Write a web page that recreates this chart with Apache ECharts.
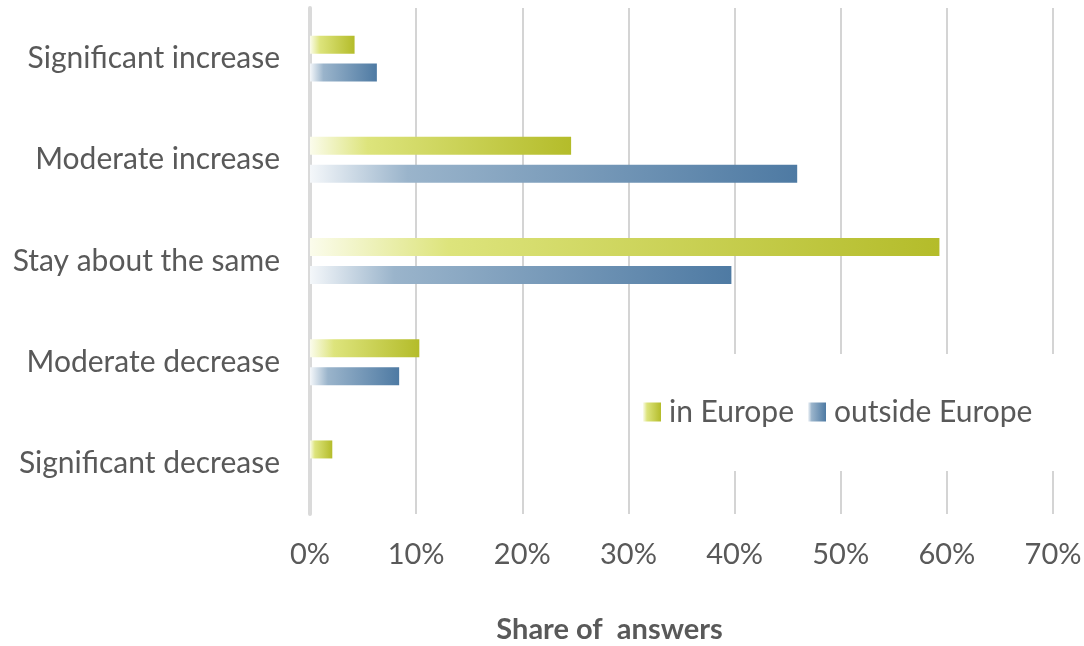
<!DOCTYPE html>
<html>
<head>
<meta charset="utf-8">
<script src="https://cdn.jsdelivr.net/npm/echarts@6/dist/echarts.min.js"></script>
<style>
  html, body { margin: 0; padding: 0; background: #ffffff; }
  #chart { width: 1084px; height: 646px; }
</style>
</head>
<body>
<div id="chart"></div>
<script>
// Expected change in answers, share of respondents (%)
const categories = [
  'Significant increase',
  'Moderate increase',
  'Stay about the same',
  'Moderate decrease',
  'Significant decrease'
];
const inEurope = [4.2, 24.6, 59.3, 10.3, 2.1];
const outsideEurope = [6.3, 45.9, 39.7, 8.4, 0];
const seriesNames = ['in Europe', 'outside Europe'];
const axisTitle = 'Share of  answers';

const FONT = 'Lato, "Open Sans", sans-serif';
const TEXT = '#595959';

function fade(stops) {
  return new echarts.graphic.LinearGradient(0, 0, 1, 0,
    stops.map(([offset, color]) => ({ offset, color })));
}

const greenFill = fade([[0, '#fbfcec'], [0.22, '#dde47c'], [1, '#b4bc2a']]);
const blueFill = fade([[0, '#f4f7fa'], [0.2, '#9ab4cb'], [1, '#4e7aa3']]);

const chart = echarts.init(document.getElementById('chart'), null, { renderer: 'canvas' });

chart.setOption({
  animation: false,
  backgroundColor: '#ffffff',
  grid: {
    left: 310, right: 31, top: 8, bottom: 132,
    containLabel: false,
    outerBoundsMode: 'none'
  },
  legend: {
    data: seriesNames,
    left: 631,
    top: 354,
    orient: 'horizontal',
    backgroundColor: '#ffffff',
    padding: [43, 24, 44, 12],
    itemWidth: 18,
    itemHeight: 19,
    itemGap: 14,
    icon: 'rect',
    textStyle: { fontFamily: FONT, fontSize: 30, color: TEXT, padding: [0, 0, 0, 3] }
  },
  xAxis: {
    type: 'value',
    min: 0,
    max: 70,
    interval: 10,
    name: axisTitle,
    nameLocation: 'middle',
    nameGap: 101,
    // the title sits left of the plot centre, so pad its right side
    nameTextStyle: {
      fontFamily: FONT, fontSize: 29, fontWeight: 'bold', color: TEXT,
      padding: [0, 144, 0, 0]
    },
    axisLine: { show: false },
    axisTick: { show: false },
    axisLabel: {
      formatter: '{value}%',
      fontFamily: FONT, fontSize: 29, color: TEXT, margin: 26
    },
    splitLine: { show: true, lineStyle: { color: '#d4d4d4', width: 2 } }
  },
  yAxis: {
    type: 'category',
    data: categories,
    inverse: true,
    axisLine: { show: true, lineStyle: { color: '#dadada', width: 4 } },
    axisTick: { show: false },
    axisLabel: { fontFamily: FONT, fontSize: 30, color: TEXT, margin: 30 },
    splitLine: { show: false }
  },
  series: [
    {
      name: seriesNames[0],
      type: 'bar',
      data: inEurope,
      barWidth: 18,
      barGap: '55%',
      itemStyle: { color: greenFill }
    },
    {
      name: seriesNames[1],
      type: 'bar',
      data: outsideEurope,
      barWidth: 18,
      barGap: '55%',
      itemStyle: { color: blueFill }
    }
  ]
});
</script>
</body>
</html>
